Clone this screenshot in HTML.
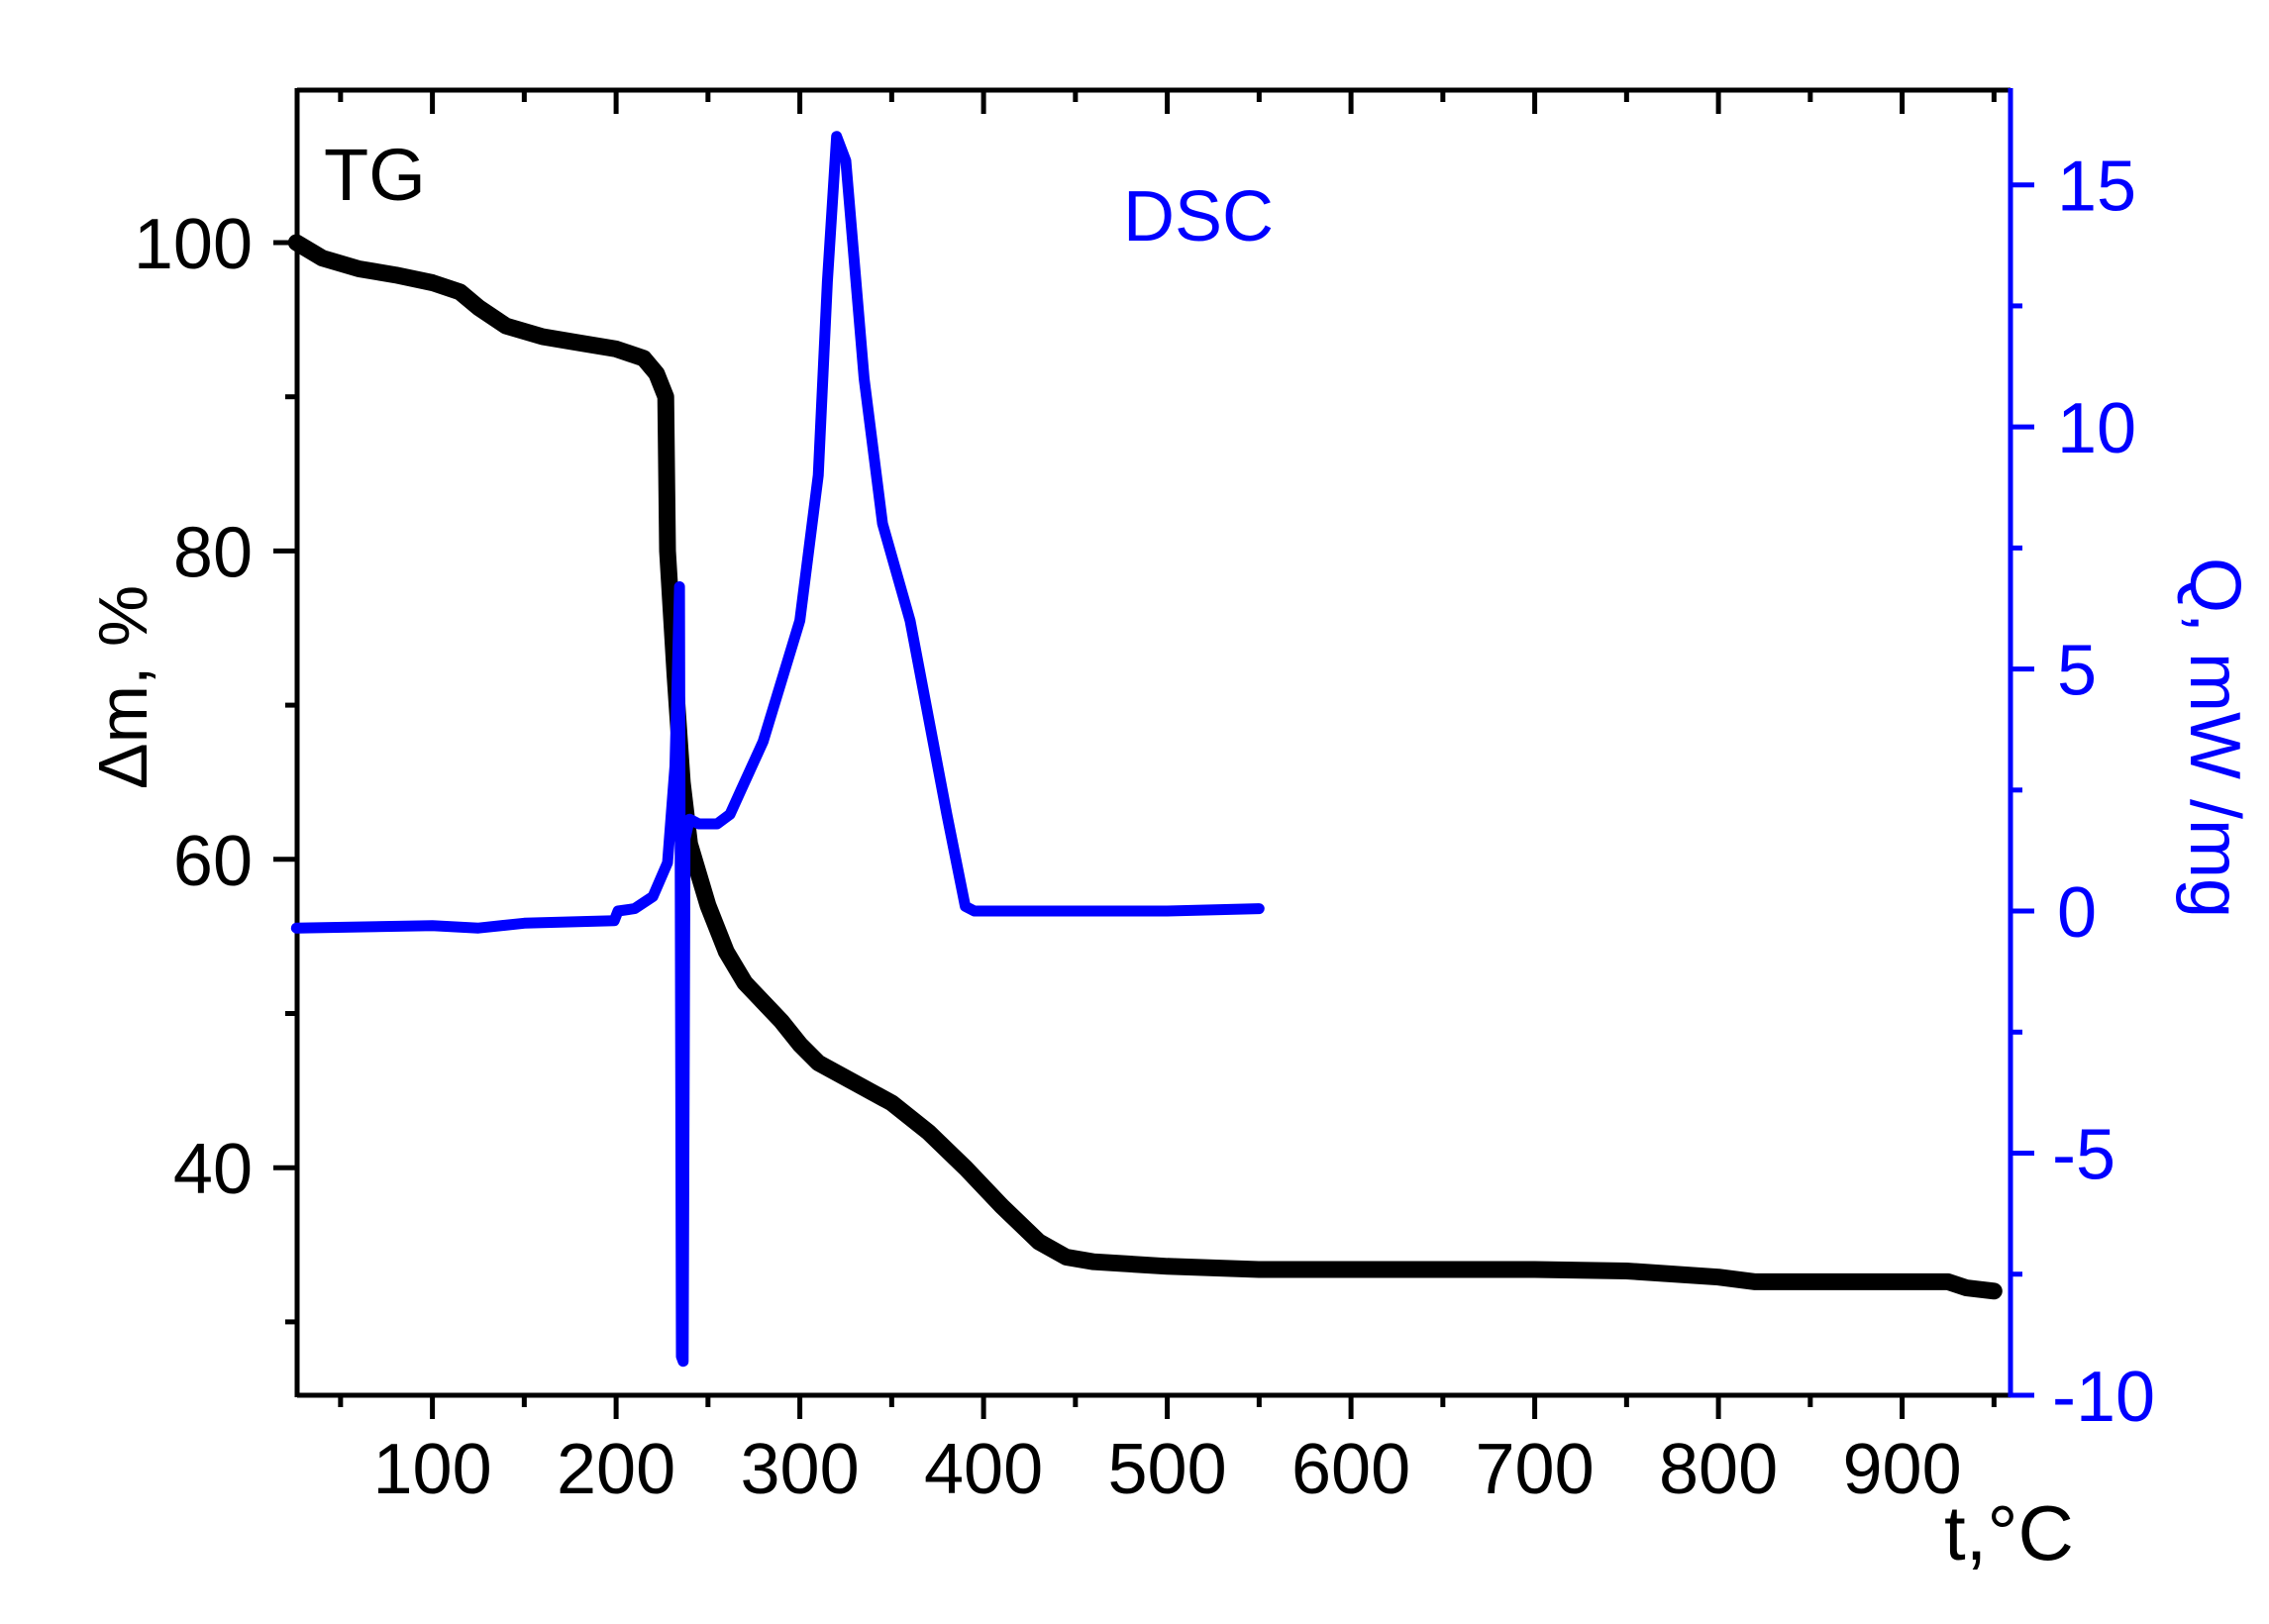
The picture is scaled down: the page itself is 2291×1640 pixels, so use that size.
<!DOCTYPE html>
<html><head><meta charset="utf-8"><style>
html,body{margin:0;padding:0;background:#fff;}
svg{display:block;font-family:"Liberation Sans",sans-serif;}
</style></head><body>
<svg id="chart" width="2291" height="1640" viewBox="0 0 2291 1640">
<g id="axes"></g>
<g id="series"></g>
<text x="327" y="202" font-size="74" fill="#000">TG</text>
<text x="1134" y="243" font-size="72" fill="#0000ff">DSC</text>
<text transform="translate(148,694) rotate(-90)" text-anchor="middle" font-size="70" fill="#000">Δm, %</text>
<text transform="translate(2212,745) rotate(90)" text-anchor="middle" font-size="72" fill="#0000ff">Q, mW /mg</text>
<text x="1963" y="1575" font-size="78" fill="#000">t,°C</text>
</svg>
<script>
const xTicks = [100,200,300,400,500,600,700,800,900];
const yLeftTicks = [40,60,80,100];
const yRightTicks = [-10,-5,0,5,10,15];
const tgT = [26,40,60,80,100,115,125,140,160,180,200,215,222,227,228,232,236,240,250,260,270,290,300,310,330,350,370,390,410,430,445,460,500,550,600,700,750,800,820,900,925,935,950];
const tgM = [100,99,98.3,97.9,97.4,96.8,95.8,94.6,93.9,93.5,93.1,92.5,91.5,90,80,72,65,61,57,54,52,49.5,48,46.8,45.5,44.2,42.3,40,37.5,35.2,34.2,33.9,33.6,33.4,33.4,33.4,33.3,32.9,32.6,32.6,32.6,32.2,32.0];
const dscT = [26,100,125,150,199,201,210,220,228,232,234.5,235.5,236.5,237.5,240,245,255,262,268,280,300,310,315,320,325,335,345,360,380,390,395,450,500,550];
const dscQ = [-0.35,-0.3,-0.35,-0.25,-0.2,0.0,0.05,0.3,1.0,3,6.7,-9.2,-9.3,1.5,1.9,1.8,1.8,2.0,2.5,3.5,6,9,13,16,15.5,11,8,6,2,0.1,0,0,0,0.05];

const X = t => 436.6 + (t - 100) * 1.855;
const YL = m => 245 + (100 - m) * 15.57;
const YR = q => 186.7 + (15 - q) * 48.89;
const L = 300, R = 2030, T = 91, B = 1409;
const NS = 'http://www.w3.org/2000/svg';
const axes = document.getElementById('axes');
const series = document.getElementById('series');
function mk(tag, attrs, parent){const e=document.createElementNS(NS,tag);for(const k in attrs)e.setAttribute(k,attrs[k]);parent.appendChild(e);return e;}

let e;
e = mk('line',{x1:L,y1:B,x2:R,y2:B,stroke:'#000','stroke-width':5},axes);


e = mk('line',{x1:L,y1:T,x2:R,y2:T,stroke:'#000','stroke-width':5},axes);


e = mk('line',{x1:L,y1:T-2,x2:L,y2:B+2,stroke:'#000','stroke-width':5},axes);


e = mk('line',{x1:R,y1:T-2,x2:R,y2:B+2,stroke:'#0000ff','stroke-width':5},axes);



for (let t = 50; t <= 950; t += 50) {
  const major = t % 100 === 0;
  const x = X(t);
  e = mk('line',{x1:x,y1:B,x2:x,y2:B+(major?24:12),stroke:'#000','stroke-width':5},axes);
  
  
  e = mk('line',{x1:x,y1:T,x2:x,y2:T+(major?24:12),stroke:'#000','stroke-width':5},axes);
  
  
}
xTicks.forEach(t => {
  e = mk('text',{x:X(t),y:1508,'text-anchor':'middle','font-size':72,fill:'#000'},axes);
  e.textContent = t;
  
  
});
for (let m = 30; m <= 105; m += 10) {
  const major = m % 20 === 0;
  const y = YL(m);
  e = mk('line',{x1:L-(major?24:12),y1:y,x2:L,y2:y,stroke:'#000','stroke-width':5},axes);
  
  
}
yLeftTicks.forEach(m => {
  e = mk('text',{x:255,y:YL(m)+26,'text-anchor':'end','font-size':72,fill:'#000'},axes);
  e.textContent = m;
  
  
});
for (let q = -10; q <= 15; q += 2.5) {
  const major = q % 5 === 0;
  const y = YR(q);
  e = mk('line',{x1:R,y1:y,x2:R+(major?24:12),y2:y,stroke:'#0000ff','stroke-width':5},axes);
  
  
}
yRightTicks.forEach(q => {
  e = mk('text',{x:q<0?2072:2077,y:YR(q)+26,'font-size':72,fill:'#0000ff'},axes);
  e.textContent = q;
  
  
});

const tgPts = tgT.map((t,i)=>X(t).toFixed(1)+','+YL(tgM[i]).toFixed(1)).join(' ');
e = mk('polyline',{points:tgPts,fill:'none',stroke:'#000','stroke-width':17,'stroke-linejoin':'round','stroke-linecap':'round'},series);


const dscPts = dscT.map((t,i)=>X(t).toFixed(1)+','+YR(dscQ[i]).toFixed(1)).join(' ');
e = mk('polyline',{points:dscPts,fill:'none',stroke:'#0000ff','stroke-width':11,'stroke-linejoin':'round','stroke-linecap':'round'},series);


</script>
</body></html>
